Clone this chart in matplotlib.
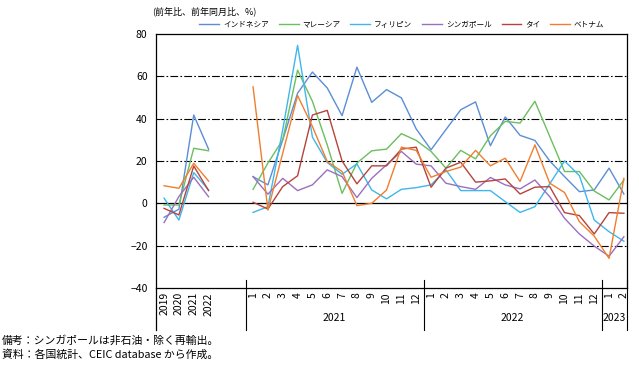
import numpy as np
import matplotlib.pyplot as plt

plt.rcParams['font.family'] = ['Noto Sans CJK JP', 'DejaVu Sans']

# x categories: 4 years, 2 blank slots, 26 months (2021-01 .. 2023-02)
years = ['2019', '2020', '2021', '2022']
months = [str(m) for m in range(1, 13)] * 2 + ['1', '2']
tick_labels = years + ['', ''] + months

# annual values (2019-2022)
idn_y = [-6.6, -2.8, 41.7, 25.6]
mys_y = [-0.8, -0.8, 26.0, 24.8]
phl_y = [2.4, -7.9, 14.5, 6.3]
sgp_y = [-9.1, 3.2, 12.3, 3.1]
tha_y = [-2.4, -5.5, 17.6, 6.0]
vnm_y = [8.3, 7.1, 18.9, 10.5]

# monthly values, 2021-01 .. 2023-02
idn_m = [12.6, 8.7, 30.0, 52.0, 62.0, 54.5, 41.4, 64.3, 47.7, 53.7, 49.8, 35.1,
         25.3, 34.8, 44.2, 47.9, 27.2, 40.8, 32.1, 29.7, 20.0, 12.6, 5.5, 6.3, 16.6, 4.4]
mys_m = [6.6, 19.0, 30.0, 62.9, 48.2, 27.6, 4.7, 19.0, 24.8, 25.6, 32.9, 29.7,
         24.5, 16.6, 25.0, 21.0, 31.9, 38.7, 37.9, 48.2, 31.6, 15.0, 15.0, 5.8, 1.6, 11.0]
phl_m = [-4.3, -1.6, 34.8, 74.6, 31.3, 19.3, 13.7, 18.6, 6.3, 2.1, 6.6, 7.4,
         8.7, 15.8, 6.0, 6.0, 6.0, 0.8, -4.3, -1.6, 9.2, 20.0, 13.1, -7.9, -13.4, -17.9]
sgp_m = [12.6, 4.3, 11.8, 6.0, 8.7, 15.8, 12.6, 2.7, 11.8, 18.2, 24.5, 18.5,
         17.7, 9.5, 7.9, 6.6, 12.2, 8.7, 6.8, 11.0, 3.1, -7.1, -14.5, -20.2, -25.0, -15.8]
tha_m = [0.5, -2.7, 7.9, 13.0, 41.7, 43.9, 20.0, 9.2, 17.7, 17.7, 25.6, 26.5,
         7.6, 16.6, 19.4, 10.0, 10.6, 11.5, 4.4, 7.6, 7.9, -4.4, -5.8, -14.5, -4.4, -4.7]
vnm_m = [55.0, -3.2, 23.7, 50.9, 36.3, 19.7, 15.0, -1.1, 0.0, 6.3, 26.5, 25.0,
         12.3, 15.0, 17.1, 25.0, 17.7, 21.3, 10.3, 27.6, 9.5, 5.1, -8.7, -15.5, -26.0, 11.8]

names = ['インドネシア', 'マレーシア', 'フィリピン', 'シンガポール', 'タイ', 'ベトナム']
colors = ['#5b8ed6', '#6abf5e', '#3fb6ec', '#9b6fbd', '#b5443b', '#f07e2f']
annual = [idn_y, mys_y, phl_y, sgp_y, tha_y, vnm_y]
monthly = [idn_m, mys_m, phl_m, sgp_m, tha_m, vnm_m]

x = np.arange(len(tick_labels))

fig = plt.figure(figsize=(6.39, 3.65), dpi=100)
ax = fig.add_axes([0.244, 0.211, 0.737, 0.696])

for name, c, a, m in zip(names, colors, annual, monthly):
    vals = np.array(a + [np.nan, np.nan] + m, dtype=float)
    ax.plot(x, vals, color=c, lw=1.0, label=name)

# grid lines
for v in [-20, 20, 40, 60]:
    ax.axhline(v, color='black', lw=0.8, ls=(0, (7, 2, 1.5, 2)), zorder=0)
ax.axhline(0, color='black', lw=0.9, zorder=0)

ax.set_ylim(-40, 80)
ax.set_xlim(-0.55, 31.2)
ax.set_yticks(range(-40, 81, 20))
ax.tick_params(axis='y', length=0, labelsize=7.5, pad=6)
ax.set_xticks(x)
ax.set_xticklabels(tick_labels, rotation=90, fontsize=7.5, va='top')
ax.tick_params(axis='x', length=0, pad=3)
for s in ax.spines.values():
    s.set_linewidth(0.9)

# group separators and year labels under the axis
trans = ax.get_xaxis_transform()
for sx in [5.5, 17.5, 29.5, 31.2]:
    ax.plot([sx, sx], [0.03, -0.165], color='black', lw=0.8, transform=trans, clip_on=False)
ax.plot([-0.55, -0.55], [0, -0.165], color='black', lw=0.9, transform=trans, clip_on=False)
for lab, px in [('2021', 11.5), ('2022', 23.5), ('2023', 30.35)]:
    ax.text(px, -0.118, lab, transform=trans, ha='center', va='center', fontsize=7.5)

fig.text(0.238, 0.968, '(前年比、前年同月比、%)', fontsize=6.5, va='center')
fig.legend(loc='center', bbox_to_anchor=(0.629, 0.932), ncol=6, frameon=False,
           fontsize=5.5, handlelength=2.6, columnspacing=1.3, handletextpad=0.5)

fig.text(0.003, 0.068, '備考：シンガポールは非石油・除く再輸出。', fontsize=7.8, va='center')
fig.text(0.003, 0.03, '資料：各国統計、CEIC database から作成。', fontsize=7.8, va='center')

fig.savefig('out.png', dpi=100)
